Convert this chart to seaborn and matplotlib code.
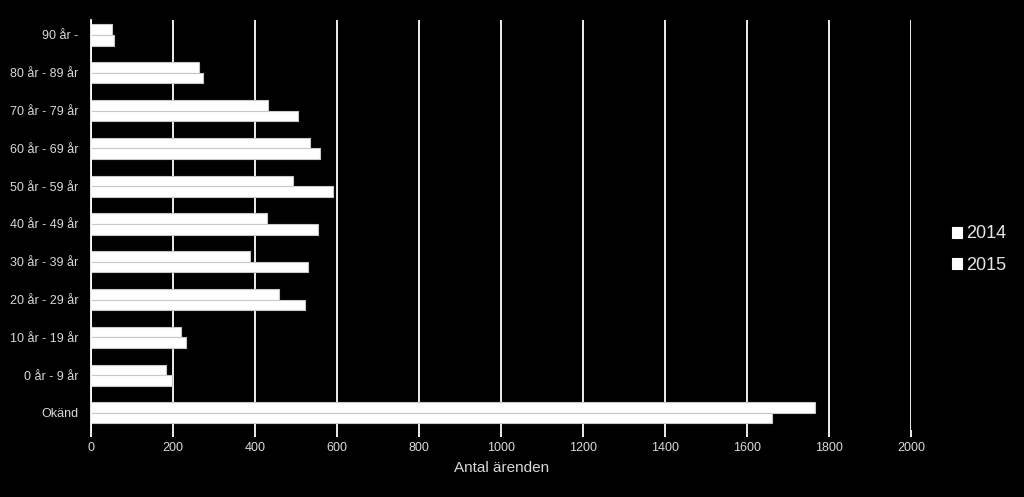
import pandas as pd
import matplotlib
matplotlib.use("Agg")
import matplotlib.pyplot as plt
import seaborn as sb

# data
groups = ["90 år -", "80 år - 89 år", "70 år - 79 år", "60 år - 69 år",
          "50 år - 59 år", "40 år - 49 år", "30 år - 39 år", "20 år - 29 år",
          "10 år - 19 år", "0 år - 9 år", "Okänd"]
years = ["2014", "2015"]
cases_2014 = [51, 263, 432, 534, 493, 429, 388, 459, 220, 183, 1766]
cases_2015 = [56, 273, 505, 558, 590, 554, 529, 522, 232, 198, 1659]

df = pd.DataFrame({
    "group": groups * 2,
    "year": [years[0]] * len(groups) + [years[1]] * len(groups),
    "cases": cases_2014 + cases_2015,
})

sb.set_style("dark")
plt.rcParams["font.family"] = ["Liberation Sans", "DejaVu Sans"]

fig = plt.figure(figsize=(10.24, 4.97), dpi=100, facecolor="black")
ax = fig.add_axes([0.089, 0.135, 0.801, 0.825])
ax.set_facecolor("black")

sb.barplot(data=df, y="group", x="cases", hue="year", order=groups,
           orient="h", palette=["white", "white"], edgecolor="#c8c8c8",
           linewidth=0.8, width=0.56, ax=ax)

ax.set_xlim(0, 2000)
ax.set_ylim(len(groups) - 0.55, -0.4)
ax.set_xticks(range(0, 2001, 200))
ax.xaxis.grid(True, color="white", linewidth=1.3)
ax.yaxis.grid(False)
ax.set_axisbelow(True)

for side in ["top", "right", "bottom"]:
    ax.spines[side].set_visible(False)
ax.spines["left"].set_color("white")
ax.spines["left"].set_linewidth(1.3)

ax.tick_params(axis="x", colors="#d9d9d9", labelsize=9, length=5,
               width=1.3, color="white", direction="out", bottom=True, pad=4)
ax.tick_params(axis="y", colors="#d9d9d9", labelsize=9, length=0, pad=9)

ax.set_xlabel("Antal ärenden", color="#d9d9d9", fontsize=11, labelpad=5)
ax.set_ylabel("")

leg = ax.legend(loc="center left", bbox_to_anchor=(1.03, 0.44), frameon=False,
                fontsize=13, handlelength=0.55, handleheight=0.55,
                handletextpad=0.2, labelspacing=0.78, labelcolor="#e6e6e6")
for h in leg.legend_handles:
    h.set_edgecolor("white")

fig.savefig("out.png", dpi=100, facecolor="black")
